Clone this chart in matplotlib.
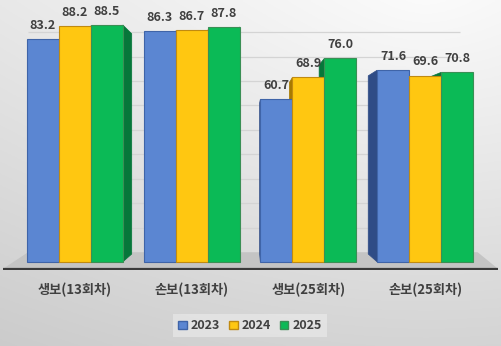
import numpy as np
import matplotlib.pyplot as plt
from matplotlib.patches import Patch, Polygon

plt.rcParams['font.family'] = ['Noto Sans CJK KR', 'DejaVu Sans']

# data
categories = ['생보(13회차)', '손보(13회차)', '생보(25회차)', '손보(25회차)']
years = ['2023', '2024', '2025']
v2023 = [83.2, 86.3, 60.7, 71.6]
v2024 = [88.2, 86.7, 68.9, 69.6]
v2025 = [88.5, 87.8, 76.0, 70.8]

colors = ['#5B86D2', '#FFC711', '#0BBA56']
edges = ['#3F64A8', '#C08A10', '#3A8F55']
sides = ['#2F4C86', '#A87A00', '#06773A']

fig = plt.figure(figsize=(5.02, 3.46), dpi=100)

# background gradient
bg = fig.add_axes([0, 0, 1, 1], zorder=-10)
yy, xx = np.mgrid[0:1:200j, 0:1:300j]
r = np.sqrt(((xx - 0.85) * 1.45) ** 2 + (yy - 1.05) ** 2)
g = np.clip(0.985 - 0.06 * r - 0.09 * (1 - yy), 0, 1)
bg.imshow(np.dstack([g, g, g]), origin='lower', extent=[0, 1, 0, 1], aspect='auto')
bg.set_axis_off()

ax = fig.add_axes([0.006, 0.22, 0.986, 0.758])
ax.set_facecolor('none')
xlim = (-0.615, 3.624)
ax.set_xlim(*xlim)
ax.set_ylim(-3, 95)

# perspective: vanishing point and depth factors
vx, vy = 1.5, 41.8
k_bar = 0.07
k_wall = 0.086

def back(px, py, k):
    return px + k * (vx - px), py + k * (vy - py)

# floor
wall0 = back(0, 0, k_wall)[1]
floor = Polygon([(xlim[0], -2.6), (xlim[1], -2.6), (3.45, wall0), (-0.4, wall0)],
                closed=True, facecolor='#c4c4c4', edgecolor='none', zorder=1)
ax.add_patch(floor)
ax.axhline(-2.6, color='#3a3a3a', lw=1.6, zorder=1.5)

# gridlines on back wall
for v in range(10, 100, 10):
    gy = back(0, v, k_wall)[1]
    ax.hlines(gy, -0.4, 3.3, color='#d4d4d4', lw=0.9, zorder=1)

x = np.arange(len(categories))
w = 0.274
series = [v2023, v2024, v2025]
for i, vals in enumerate(series):
    xs = x + (i - 1) * w
    bars = ax.bar(xs, vals, width=w, color=colors[i], edgecolor=edges[i],
                  linewidth=0.8, zorder=3)
    for xc, h in zip(xs, vals):
        # side face away from the vanishing point
        ex = xc + w / 2 if xc < vx else xc - w / 2
        bx0, by0 = back(ex, 0, k_bar)
        bx1, by1 = back(ex, h, k_bar)
        face = Polygon([(ex, 0), (ex, h), (bx1, by1), (bx0, by0)], closed=True,
                       facecolor=sides[i], edgecolor=sides[i], lw=0.5, zorder=2)
        ax.add_patch(face)
        ax.annotate(f'{h:.1f}', (xc, h), xytext=(0, 9.8), textcoords='offset points',
                    ha='center', va='center', fontsize=9, fontweight='bold',
                    color='#404040', zorder=5)

ax.set_xticks(x)
ax.set_xticklabels(categories, fontsize=9.5, fontweight='bold', color='#404040')
ax.tick_params(axis='x', length=0, pad=9)
ax.set_yticks([])
for s in ax.spines.values():
    s.set_visible(False)

handles = [Patch(facecolor=colors[i], edgecolor=edges[i], label=years[i]) for i in range(3)]
leg = fig.legend(handles=handles, loc='center', bbox_to_anchor=(0.498, 0.058), ncol=3,
                 frameon=True, fontsize=9, handlelength=0.7, handleheight=0.7,
                 handletextpad=0.3, columnspacing=0.7, borderpad=0.4, fancybox=False)
leg.get_frame().set_facecolor('#ececec')
leg.get_frame().set_edgecolor('none')
leg.get_frame().set_alpha(0.6)
for t in leg.get_texts():
    t.set_fontweight('bold')
    t.set_color('#404040')

plt.savefig('out.png', dpi=100)
plt.close()
